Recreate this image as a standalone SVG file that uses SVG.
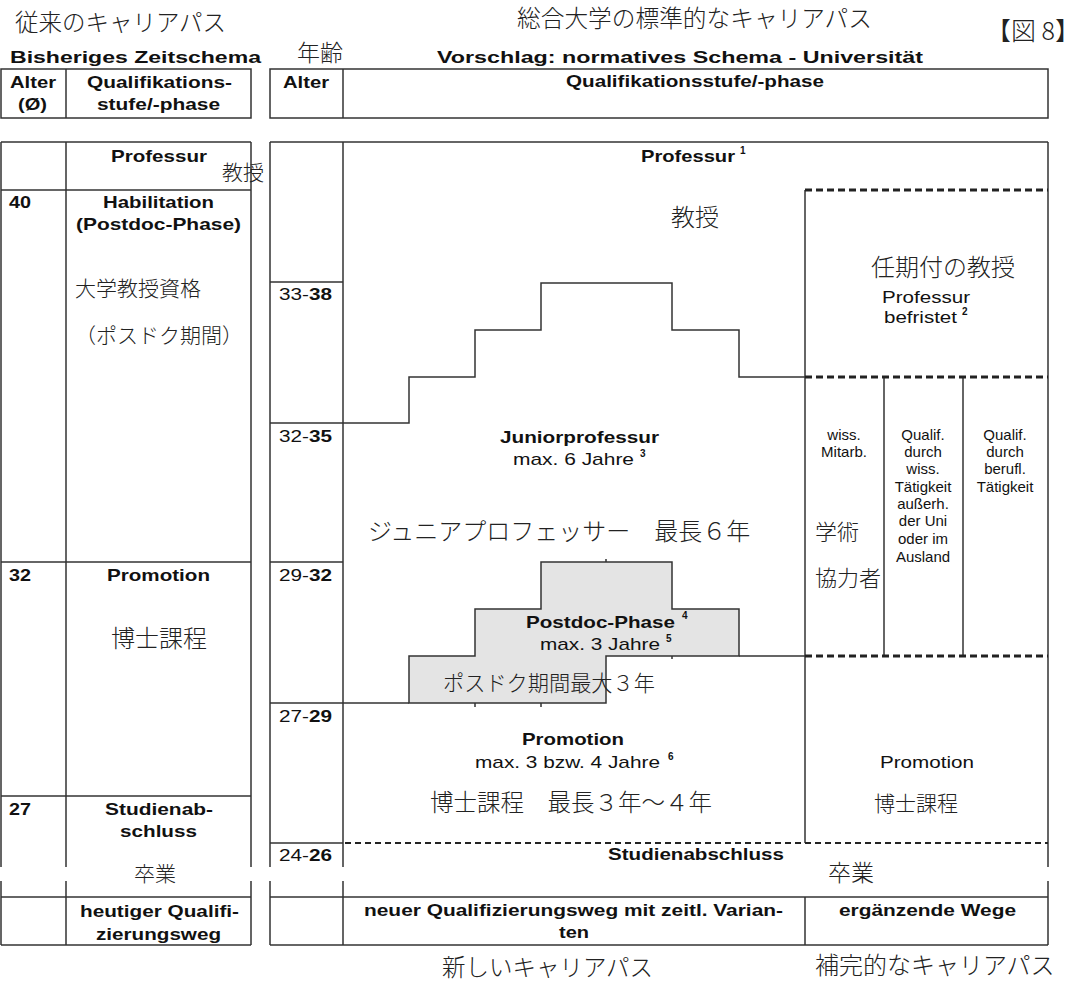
<svg xmlns="http://www.w3.org/2000/svg" width="1081" height="981" viewBox="0 0 1081 981">
<style>
.ln{stroke:#333;stroke-width:1.5;fill:none}
.dt{stroke:#222;stroke-width:3;stroke-dasharray:7 4;fill:none}
.dn{stroke:#222;stroke-width:2;stroke-dasharray:6 4;fill:none}
.b{font-family:"Liberation Sans",Arial,sans-serif;font-weight:bold;font-size:17px;fill:#111}
.r{font-family:"Liberation Sans",Arial,sans-serif;font-size:17px;fill:#111}
.s{font-family:"Liberation Sans",Arial,sans-serif;font-size:15px;fill:#111;text-anchor:middle}
.sup{font-family:"Liberation Sans",Arial,sans-serif;font-weight:bold;font-size:10px;fill:#111}
.jp{font-family:"Noto Sans CJK JP","Noto Sans CJK SC",sans-serif;font-weight:300;fill:#222}
</style>
<rect width="1081" height="981" fill="#fff"/>

<g id="titles">
<text class="jp" x="15" y="31" font-size="23.5">従来のキャリアパス</text>
<text class="jp" x="517" y="27" font-size="23.7">総合大学の標準的なキャリアパス</text>
<text class="jp" x="986" y="40" font-size="25">【図 8】</text>
<text class="jp" x="297" y="61" font-size="23">年齢</text>
<text class="b" x="10" y="63" font-size="21" textLength="251" lengthAdjust="spacingAndGlyphs">Bisheriges Zeitschema</text>
<text class="b" x="437" y="63" font-size="21" textLength="486" lengthAdjust="spacingAndGlyphs">Vorschlag: normatives Schema - Universität</text>
</g>

<g id="connectors">
<!-- left table -->
<rect class="ln" x="1" y="69" width="250" height="49"/>
<line class="ln" x1="66" y1="69" x2="66" y2="118"/>
<line class="ln" x1="1" y1="142" x2="251" y2="142"/>
<line class="ln" x1="1" y1="190" x2="251" y2="190"/>
<line class="ln" x1="1" y1="562" x2="251" y2="562"/>
<line class="ln" x1="1" y1="796" x2="251" y2="796"/>
<line class="ln" x1="1" y1="897" x2="251" y2="897"/>
<line class="ln" x1="1" y1="945" x2="251" y2="945"/>
<path class="ln" d="M1 142V867M66 142V867M251 142V867M1 881V945M66 881V945M251 881V945"/>
<!-- middle table -->
<rect class="ln" x="270" y="69" width="778" height="49"/>
<line class="ln" x1="343" y1="69" x2="343" y2="118"/>
<line class="ln" x1="270" y1="142" x2="1048" y2="142"/>
<path class="ln" d="M270 282H343M270 423H343M270 562H343M270 703H343M270 843H343"/>
<path class="ln" d="M270 142V867M343 142V867M1048 142V867M270 881V945M343 881V945M1048 881V945"/>
<line class="ln" x1="270" y1="897" x2="1048" y2="897"/>
<line class="ln" x1="270" y1="945" x2="1048" y2="945"/>
<line class="ln" x1="805" y1="897" x2="805" y2="945"/>
<!-- right column -->
<line class="ln" x1="805" y1="190" x2="805" y2="843"/>
<line class="ln" x1="884" y1="377" x2="884" y2="656"/>
<line class="ln" x1="963" y1="377" x2="963" y2="656"/>
<line class="dt" x1="805" y1="190" x2="1048" y2="190"/>
<line class="dt" x1="805" y1="377" x2="1048" y2="377"/>
<line class="dt" x1="805" y1="656" x2="1048" y2="656"/>
<line class="dn" x1="345" y1="843" x2="1048" y2="843"/>
<!-- stairs -->
<polyline class="ln" points="343,423 409,423 409,377 475,377 475,330 541,330 541,283 672,283 672,330 739,330 739,377 805,377"/>
<polygon points="409,703 409,656 475,656 475,609 541,609 541,562 672,562 672,609 739,609 739,656 606,656 606,703" fill="#e4e4e4" stroke="#333" stroke-width="1.5"/>
<path class="ln" d="M739 656H805M343 703H409"/>
<path class="ln" d="M475 703v4M541 703v4M606 562v-3M672 656v3"/>
</g>

<g id="left-header">
<text class="b" x="10" y="88" textLength="46" lengthAdjust="spacingAndGlyphs">Alter</text>
<text class="b" x="18" y="110" textLength="29" lengthAdjust="spacingAndGlyphs">(Ø)</text>
<text class="b" x="87" y="88" textLength="145" lengthAdjust="spacingAndGlyphs">Qualifikations-</text>
<text class="b" x="97" y="110" textLength="123" lengthAdjust="spacingAndGlyphs">stufe/-phase</text>
</g>

<g id="left-professur">
<text class="b" x="111" y="162" textLength="96" lengthAdjust="spacingAndGlyphs">Professur</text>
<text class="jp" x="222" y="180" font-size="21">教授</text>
</g>

<g id="left-habilitation">
<text class="b" x="9" y="208" textLength="22" lengthAdjust="spacingAndGlyphs">40</text>
<text class="b" x="103" y="208" textLength="111" lengthAdjust="spacingAndGlyphs">Habilitation</text>
<text class="b" x="76" y="230" textLength="165" lengthAdjust="spacingAndGlyphs">(Postdoc-Phase)</text>
<text class="jp" x="75" y="296" font-size="21">大学教授資格</text>
<text class="jp" x="75" y="343" font-size="21">（ポスドク期間）</text>
</g>

<g id="left-promotion">
<text class="b" x="9" y="581" textLength="22" lengthAdjust="spacingAndGlyphs">32</text>
<text class="b" x="107" y="581" textLength="103" lengthAdjust="spacingAndGlyphs">Promotion</text>
<text class="jp" x="111" y="647" font-size="24">博士課程</text>
</g>

<g id="left-studienabschluss">
<text class="b" x="9" y="815" textLength="22" lengthAdjust="spacingAndGlyphs">27</text>
<text class="b" x="105" y="815" textLength="108" lengthAdjust="spacingAndGlyphs">Studienab-</text>
<text class="b" x="120" y="837" textLength="77" lengthAdjust="spacingAndGlyphs">schluss</text>
<text class="jp" x="134" y="881" font-size="21">卒業</text>
</g>

<g id="left-footer">
<text class="b" x="80" y="917" textLength="159" lengthAdjust="spacingAndGlyphs">heutiger Qualifi-</text>
<text class="b" x="96" y="940" textLength="125" lengthAdjust="spacingAndGlyphs">zierungsweg</text>
</g>

<g id="mid-header">
<text class="b" x="283" y="88" textLength="46" lengthAdjust="spacingAndGlyphs">Alter</text>
<text class="b" x="566" y="87" textLength="258" lengthAdjust="spacingAndGlyphs">Qualifikationsstufe/-phase</text>
</g>

<g id="ages">
<text class="r" x="279" y="300" textLength="53" lengthAdjust="spacingAndGlyphs">33-<tspan font-weight="bold">38</tspan></text>
<text class="r" x="279" y="442" textLength="53" lengthAdjust="spacingAndGlyphs">32-<tspan font-weight="bold">35</tspan></text>
<text class="r" x="279" y="581" textLength="53" lengthAdjust="spacingAndGlyphs">29-<tspan font-weight="bold">32</tspan></text>
<text class="r" x="279" y="722" textLength="53" lengthAdjust="spacingAndGlyphs">27-<tspan font-weight="bold">29</tspan></text>
<text class="r" x="279" y="861" textLength="53" lengthAdjust="spacingAndGlyphs">24-<tspan font-weight="bold">26</tspan></text>
</g>

<g id="professur">
<text class="b" x="641" y="162" textLength="94" lengthAdjust="spacingAndGlyphs">Professur</text>
<text class="sup" x="740" y="154">1</text>
<text class="jp" x="671" y="226" font-size="24">教授</text>
</g>

<g id="professur-befristet">
<text class="jp" x="871" y="276" font-size="24">任期付の教授</text>
<text class="r" x="882" y="303" textLength="88" lengthAdjust="spacingAndGlyphs">Professur</text>
<text class="r" x="884" y="323" textLength="73" lengthAdjust="spacingAndGlyphs">befristet</text>
<text class="sup" x="962" y="315">2</text>
</g>

<g id="juniorprofessur">
<text class="b" x="500" y="443" font-size="18" textLength="159" lengthAdjust="spacingAndGlyphs">Juniorprofessur</text>
<text class="r" x="513" y="465" textLength="121" lengthAdjust="spacingAndGlyphs">max. 6 Jahre</text>
<text class="sup" x="640" y="457">3</text>
<text class="jp" x="368" y="540" font-size="24">ジュニアプロフェッサー　最長６年</text>
</g>

<g id="wiss-mitarb">
<text class="s" x="844" y="440">wiss.</text>
<text class="s" x="844" y="457">Mitarb.</text>
<text class="jp" x="815" y="540" font-size="22">学術</text>
<text class="jp" x="815" y="586" font-size="22">協力者</text>
</g>

<g id="qualif-wiss">
<text class="s" x="923" y="440">Qualif.</text>
<text class="s" x="923" y="457">durch</text>
<text class="s" x="923" y="474">wiss.</text>
<text class="s" x="923" y="492">Tätigkeit</text>
<text class="s" x="923" y="509">außerh.</text>
<text class="s" x="923" y="526">der Uni</text>
<text class="s" x="923" y="544">oder im</text>
<text class="s" x="923" y="562">Ausland</text>
</g>

<g id="qualif-beruf">
<text class="s" x="1005" y="440">Qualif.</text>
<text class="s" x="1005" y="457">durch</text>
<text class="s" x="1005" y="474">berufl.</text>
<text class="s" x="1005" y="492">Tätigkeit</text>
</g>

<g id="postdoc">
<text class="b" x="526" y="628" textLength="149" lengthAdjust="spacingAndGlyphs">Postdoc-Phase</text>
<text class="sup" x="682" y="619">4</text>
<text class="r" x="540" y="650" textLength="120" lengthAdjust="spacingAndGlyphs">max. 3 Jahre</text>
<text class="sup" x="666" y="642">5</text>
<text class="jp" x="443" y="691" font-size="21.2">ポスドク期間最大３年</text>
</g>

<g id="promotion">
<text class="b" x="522" y="745" textLength="102" lengthAdjust="spacingAndGlyphs">Promotion</text>
<text class="r" x="475" y="768" textLength="185" lengthAdjust="spacingAndGlyphs">max. 3 bzw. 4 Jahre</text>
<text class="sup" x="668" y="760">6</text>
<text class="jp" x="430" y="811" font-size="23.5">博士課程　最長３年〜４年</text>
</g>

<g id="promotion-right">
<text class="r" x="880" y="768" textLength="94" lengthAdjust="spacingAndGlyphs">Promotion</text>
<text class="jp" x="874" y="811" font-size="21">博士課程</text>
</g>

<g id="studienabschluss">
<text class="b" x="608" y="860" textLength="176" lengthAdjust="spacingAndGlyphs">Studienabschluss</text>
<text class="jp" x="828" y="881" font-size="23">卒業</text>
</g>

<g id="mid-footer">
<text class="b" x="364" y="916" textLength="419" lengthAdjust="spacingAndGlyphs">neuer Qualifizierungsweg mit zeitl. Varian-</text>
<text class="b" x="559" y="938" textLength="30" lengthAdjust="spacingAndGlyphs">ten</text>
<text class="b" x="839" y="916" textLength="177" lengthAdjust="spacingAndGlyphs">ergänzende Wege</text>
<text class="jp" x="442" y="976" font-size="23.5">新しいキャリアパス</text>
<text class="jp" x="815" y="974" font-size="24">補完的なキャリアパス</text>
</g>
</svg>
